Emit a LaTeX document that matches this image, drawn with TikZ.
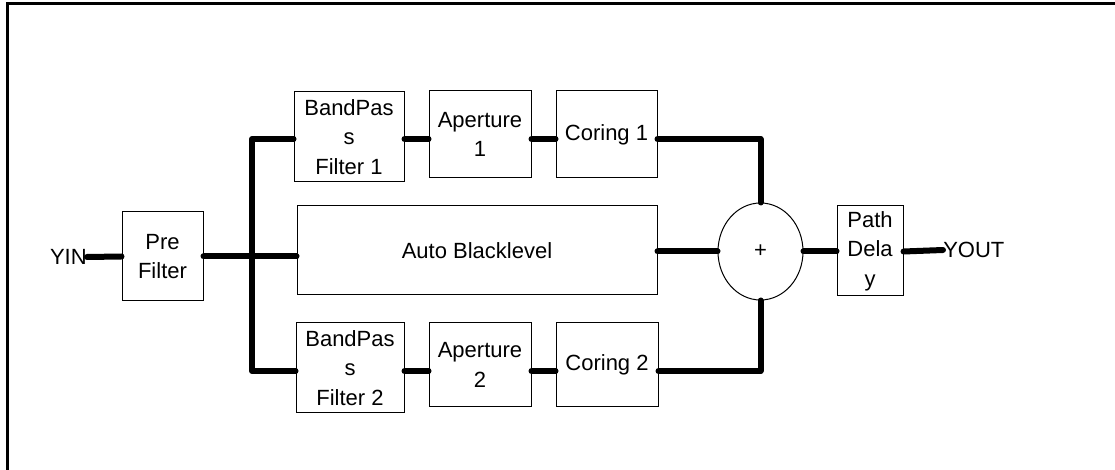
\documentclass[tikz,border=0pt]{standalone}
\usepackage{fontspec}
\setmainfont{Liberation Sans}
\usetikzlibrary{shapes.geometric}
\tikzset{
  block/.style={draw,line width=0.75pt,inner sep=0pt,align=center,font=\fontsize{16.5}{22}\selectfont},
  tag/.style={inner sep=0pt,font=\fontsize{16.5}{22}\selectfont},
  wire/.style={line width=4.5pt,line cap=round,line join=round},
}
\begin{document}
\begin{tikzpicture}[x=0.75pt,y=-0.75pt]
  \useasboundingbox (0,0) rectangle (1115,470);
  \draw[line width=2.25pt] (7,470) -- (7,4) -- (1115,4);
  % rows of the wiring
  \coordinate (top) at (0,139);
  \coordinate (mid) at (0,256.5);
  \coordinate (bot) at (0,371);
  \coordinate (busx) at (252,0);
  \node[tag,anchor=east] (yin) at (87,257) {YIN};
  \node[block,minimum width=60.75pt,minimum height=66.75pt] (pre) at (162.5,256.5) {Pre\\Filter};
  \node[block,minimum width=82.5pt,minimum height=67.5pt] (bp1) at (349,137) {BandPas\\s\\Filter 1};
  \node[block,minimum width=76.5pt,minimum height=65.25pt] (ap1) at (480,134.5) {Aperture\\1};
  \node[block,minimum width=75.75pt,minimum height=65.25pt] (cor1) at (606.5,134.5) {Coring 1};
  \node[block,minimum width=270pt,minimum height=66.75pt] (auto) at (477,250.5) {Auto Blacklevel};
  \node[block,minimum width=81pt,minimum height=67.5pt] (bp2) at (350,368) {BandPas\\s\\Filter 2};
  \node[block,minimum width=76.5pt,minimum height=63pt] (ap2) at (480,365) {Aperture\\2};
  \node[block,minimum width=76.5pt,minimum height=63pt] (cor2) at (607,365) {Coring 2};
  \node[block,ellipse,minimum width=63.75pt,minimum height=72.75pt] (sum) at (760.5,251.5) {+};
  \node[block,minimum width=49.5pt,minimum height=67.5pt] (delay) at (870,251) {Path\\Dela\\y};
  \node[tag,anchor=west] (yout) at (943,250) {YOUT};
  % connectors
  \draw[wire] (yin.east) -- (pre.west |- mid);
  \draw[wire] (pre.east |- mid) -- (auto.west |- mid);
  \draw[wire] (bp1.west |- top) -| (busx |- bot) -- (bp2.west |- bot);
  \draw[wire] (bp1.east |- top) -- (ap1.west |- top);
  \draw[wire] (ap1.east |- top) -- (cor1.west |- top);
  \draw[wire] (bp2.east |- bot) -- (ap2.west |- bot);
  \draw[wire] (ap2.east |- bot) -- (cor2.west |- bot);
  \draw[wire] (cor1.east |- top) -| (sum.north);
  \draw[wire] (cor2.east |- bot) -| (sum.south);
  \draw[wire] (auto.east |- sum) -- (sum.west);
  \draw[wire] (sum.east) -- (delay.west |- sum);
  \draw[wire] (delay.east |- sum) -- (yout.west);
\end{tikzpicture}
\end{document}
